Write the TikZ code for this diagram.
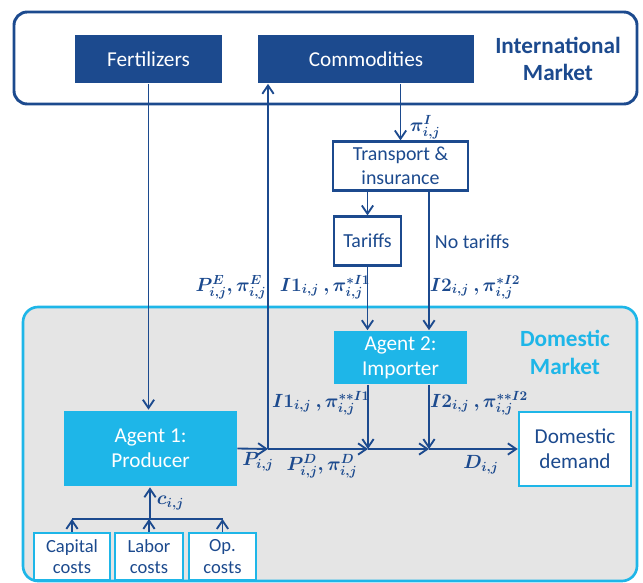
\documentclass[tikz,border=0pt]{standalone}
\usepackage{fontspec}
\setmainfont{Carlito}
\usepackage{amsmath}
\usepackage{bm}
\usetikzlibrary{arrows.meta}
\definecolor{dkblue}{RGB}{28,74,142}
\definecolor{ltblue}{RGB}{30,182,232}
\definecolor{bggray}{RGB}{229,229,229}
\begin{document}
\begin{tikzpicture}[x=0.0265cm,y=-0.0265cm,line width=1.4pt,>={Straight Barb[length=2.2mm,width=3mm]},
  darkbox/.style={fill=dkblue,text=white,font=\fontsize{16}{19}\selectfont,inner sep=0pt,align=center},
  lightbox/.style={fill=ltblue,text=white,font=\fontsize{16}{19}\selectfont,inner sep=0pt,align=center},
  whitebox/.style={draw=dkblue,line width=1.6pt,fill=white,text=dkblue,font=\fontsize{15}{18}\selectfont,inner sep=0pt,align=center},
  costbox/.style={draw=ltblue,line width=1.8pt,fill=white,text=dkblue,font=\fontsize{14}{16}\selectfont,inner sep=0pt,align=center,minimum height=1.25cm},
  flow/.style={draw=dkblue,->},
  lbl/.style={text=dkblue,font=\fontsize{14}{16}\selectfont,inner sep=0pt}]
  \useasboundingbox (0,0) rectangle (643,583);
  % markets
  \draw[dkblue,line width=2.2pt,rounded corners=0.35cm] (14,12) rectangle (637,104);
  \draw[ltblue,fill=bggray,line width=2pt,rounded corners=0.4cm] (23,307) rectangle (637,581);
  \node[text=dkblue,font=\fontsize{17.5}{21}\selectfont\bfseries,align=center] (intl) at (558,59) {International\\Market};
  \node[text=ltblue,font=\fontsize{17.5}{21}\selectfont\bfseries,align=center] (dom) at (565,352) {Domestic\\Market};
  % boxes
  \node[darkbox,minimum width=3.9cm,minimum height=1.27cm] (fert) at (148.5,59) {Fertilizers};
  \node[darkbox,minimum width=5.7cm,minimum height=1.27cm] (comm) at (366,59) {Commodities};
  \node[whitebox,minimum width=3.58cm,minimum height=1.3cm] (tr) at (400.5,166) {Transport \&\\insurance};
  \node[whitebox,minimum width=1.78cm,minimum height=1.3cm] (tar) at (367.5,241) {Tariffs};
  \node[lightbox,minimum width=3.52cm,minimum height=1.4cm] (ag2) at (400.5,357.5) {Agent 2:\\Importer};
  \node[lightbox,minimum width=4.56cm,minimum height=2.01cm] (ag1) at (150.5,448.5) {Agent 1:\\Producer};
  \node[costbox,minimum width=2.97cm,minimum height=1.96cm,font=\fontsize{16}{19}\selectfont] (dd) at (575,449) {Domestic\\demand};
  \node[costbox,minimum width=2.01cm] (cap) at (72,556.5) {Capital\\costs};
  \node[costbox,minimum width=1.8cm] (lab) at (149,556.5) {Labor\\costs};
  \node[costbox,minimum width=1.78cm] (op) at (222.5,556.5) {Op.\\costs};
  % junctions
  \coordinate (pj) at (268,449);
  \coordinate (i1) at (368,449);
  \coordinate (i2) at (429,449);
  \coordinate (cj) at (150,519);
  % flows
  \draw[flow] (fert.south) -- (fert.south |- ag1.north);
  \draw[flow] (ag1.east) -- (pj);
  \draw[flow] (pj) -- (pj |- comm.south);
  \draw[flow] (tr.north |- comm.south) -- (tr.north);
  \draw[flow] (tar.north |- tr.south) -- (tar.north);
  \draw[flow] (tar.south) -- (tar.south |- ag2.north);
  \draw[flow] (tr.south -| i2) -- (ag2.north -| i2);
  \draw[flow] (ag2.south -| i1) -- (i1);
  \draw[flow] (ag2.south -| i2) -- (i2);
  \draw[flow] (pj) -- (i1);
  \draw[flow] (i1) -- (i2);
  \draw[flow] (i2) -- (dd.west);
  \draw[flow] (cj) -- (cj |- ag1.south);
  \draw[dkblue] (cap.north |- cj) -- (op.north |- cj);
  \draw[flow] (cap.north) -- (cap.north |- cj);
  \draw[flow] (lab.north) -- (lab.north |- cj);
  \draw[flow] (op.north) -- (op.north |- cj);
  % labels
  \node[lbl,anchor=west] (piI) at (409,127) {$\bm{\pi^{I}_{i,j}}$};
  \node[text=dkblue,font=\fontsize{15}{18}\selectfont,anchor=west,inner sep=0pt] (notar) at (434,242) {No tariffs};
  \node[lbl] (pe) at (231,287) {$\bm{P^{E}_{i,j},\pi^{E}_{i,j}}$};
  \node[lbl] (ia) at (325,287) {$\bm{I1_{i,j}\ ,\pi^{*I1}_{i,j}}$};
  \node[lbl] (ib) at (475,287) {$\bm{I2_{i,j}\ ,\pi^{*I2}_{i,j}}$};
  \node[lbl] (ic) at (321,403) {$\bm{I1_{i,j}\ ,\pi^{**I1}_{i,j}}$};
  \node[lbl] (id) at (479,403) {$\bm{I2_{i,j}\ ,\pi^{**I2}_{i,j}}$};
  \node[lbl] (p) at (258,462) {$\bm{P_{i,j}}$};
  \node[lbl] (pd) at (322,466) {$\bm{P^{D}_{i,j},\pi^{D}_{i,j}}$};
  \node[lbl] (d) at (481,465) {$\bm{D_{i,j}}$};
  \node[lbl,anchor=west] (c) at (156,503) {$\bm{c_{i,j}}$};
\end{tikzpicture}
\end{document}
